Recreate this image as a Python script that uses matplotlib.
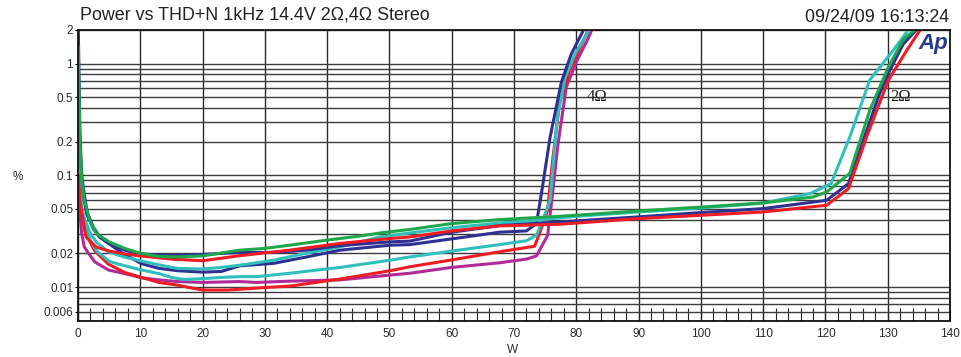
import matplotlib
matplotlib.use("Agg")
import matplotlib.pyplot as plt
from matplotlib.ticker import FixedLocator, FixedFormatter, LogLocator, NullFormatter, MultipleLocator

plt.rcParams['font.family'] = ['Liberation Sans', 'DejaVu Sans']

# ---- data (W, THD+N %) ----
# 4 ohm curves
blue4_w = [0.05, 0.3, 0.85, 1.4, 2.5, 3.5, 4.9, 7.5, 10.2, 13, 16, 20, 23, 26, 31.4, 36.7, 42.1, 50.1, 53.3,
           60, 67.7, 72, 73.6, 74.4, 75.8, 77.6, 79.2, 81.1, 81.5]
blue4_v = [0.3, 0.12, 0.065, 0.045, 0.033, 0.028, 0.0246, 0.0195, 0.0162, 0.0147, 0.014, 0.0136, 0.0138, 0.0155,
           0.0163, 0.0186, 0.0214, 0.0237, 0.024, 0.027, 0.031, 0.0318, 0.037, 0.0686, 0.22, 0.68, 1.22, 1.97, 2.2]

cyan4_w = [0.05, 0.3, 0.6, 1, 2, 3, 5, 7.5, 10, 13, 15, 17, 20, 23, 26, 28.7, 34, 42.1, 50.1, 53.3,
           60, 67.7, 72, 73.6, 74.4, 75.8, 76.9, 78.2, 79.8, 81.9, 82.3]
cyan4_v = [0.12, 0.07, 0.05, 0.038, 0.026, 0.021, 0.017, 0.0155, 0.0143, 0.0132, 0.0122, 0.0117, 0.0119, 0.0122,
           0.0124, 0.0124, 0.0133, 0.015, 0.0174, 0.0186, 0.021, 0.024, 0.026, 0.0291, 0.037, 0.0598, 0.31, 0.75,
           1.22, 1.93, 2.2]

red4_w = [0.05, 0.3, 0.6, 1.1, 2, 2.7, 4.9, 7.5, 10.2, 13, 16, 20, 24, 30, 34, 42.1, 50.1, 53.3,
          60, 67.7, 73.3, 74.1, 75.4, 76.2, 77.3, 78.9, 81.9, 82.2]
red4_v = [0.09, 0.06, 0.045, 0.032, 0.025, 0.021, 0.016, 0.0135, 0.0122, 0.011, 0.0104, 0.0094, 0.0094, 0.0099,
          0.0102, 0.0118, 0.014, 0.0152, 0.0175, 0.0207, 0.0232, 0.0302, 0.0487, 0.136, 0.44, 0.86, 2.0, 2.2]

mag4_w = [0.05, 0.3, 0.6, 1, 1.7, 2.7, 4.9, 7.5, 10.2, 13, 16, 20, 26, 28.7, 34, 42.1, 50.1, 53.3,
          60, 67.7, 72, 73.6, 75.4, 76.2, 77.0, 78.4, 80.1, 81.9, 82.8]
mag4_v = [0.06, 0.045, 0.03, 0.023, 0.02, 0.0168, 0.0142, 0.0132, 0.0121, 0.0116, 0.0112, 0.011, 0.0112, 0.011,
          0.0113, 0.0116, 0.0128, 0.0133, 0.015, 0.0165, 0.0178, 0.019, 0.029, 0.069, 0.18, 0.62, 1.06, 1.68, 2.2]

# 2 ohm curves
cyan2_w = [0.05, 0.3, 0.6, 1, 2, 3, 5, 7.5, 10, 13, 16, 20, 23, 26, 31.4, 36.7, 42.1, 48.5, 53.3,
           60, 67.7, 72, 80, 90, 100, 110, 117.5, 120.9, 123.9, 127.1, 130.9, 133.3, 133.8]
cyan2_v = [0.15, 0.07, 0.05, 0.042, 0.03, 0.025, 0.0205, 0.0185, 0.0172, 0.0158, 0.0147, 0.0145, 0.015, 0.0157,
           0.0174, 0.0201, 0.0229, 0.0281, 0.0305, 0.034, 0.0375, 0.039, 0.043, 0.047, 0.051, 0.0565, 0.0686,
           0.0843, 0.22, 0.71, 1.32, 2.0, 2.2]

blue2_w = [0.05, 0.3, 0.6, 1, 1.5, 2.5, 3.5, 5, 7.5, 10, 15, 20, 26, 31.4, 36.7, 42.1, 50.1, 53.3,
           60, 67.7, 77.4, 90, 100, 110, 120.2, 123.7, 126.6, 128.7, 130.3, 132.5, 134.6, 135]
blue2_v = [2.0, 0.25, 0.1, 0.068, 0.046, 0.034, 0.028, 0.0245, 0.0214, 0.0198, 0.0192, 0.0196, 0.0204, 0.0204,
           0.0214, 0.0235, 0.0254, 0.0258, 0.031, 0.0355, 0.0383, 0.0425, 0.0464, 0.0504, 0.0598, 0.0843, 0.25,
           0.54, 0.86, 1.5, 2.0, 2.2]

red2_w = [0.05, 0.3, 0.8, 1.3, 2.9, 5, 7.5, 10, 15, 20, 26, 34, 42.1, 50.1, 53.3,
          60, 67.7, 77.4, 90, 100, 110, 120.2, 123.7, 126.6, 130.1, 133, 135.2, 135.6]
red2_v = [0.1, 0.06, 0.04, 0.028, 0.0228, 0.021, 0.0198, 0.019, 0.0178, 0.0172, 0.0191, 0.0214, 0.0246, 0.0272,
          0.0281, 0.0318, 0.0353, 0.0365, 0.041, 0.0439, 0.047, 0.054, 0.076, 0.22, 0.71, 1.3, 2.0, 2.2]

green2_w = [0.05, 0.3, 0.6, 1, 2, 3, 5, 7.5, 10, 13, 16, 20, 24, 26, 30, 34, 39.9, 45, 48.5, 53.3,
            60, 67.7, 77.4, 90, 100, 110, 118, 120.2, 123.9, 127.1, 130.1, 132.5, 134.4, 134.8]
green2_v = [1.4, 0.2, 0.09, 0.06, 0.038, 0.03, 0.0254, 0.0222, 0.0201, 0.0188, 0.0186, 0.019, 0.0206, 0.0214,
            0.0222, 0.0237, 0.0263, 0.0285, 0.0305, 0.0328, 0.037, 0.0402, 0.043, 0.048, 0.052, 0.0566, 0.064,
            0.071, 0.104, 0.38, 0.93, 1.65, 2.0, 2.2]

ytick_vals = [0.006, 0.01, 0.02, 0.05, 0.1, 0.2, 0.5, 1, 2]
ytick_labels = ['0.006', '0.01', '0.02', '0.05', '0.1', '0.2', '0.5', '1', '2']

BLUE = '#2e3192'
GREEN = '#1ea84b'
RED = '#ee1d25'
CYAN = '#30c0bc'
MAGENTA = '#b02a98'

fig = plt.figure(figsize=(9.62, 3.57), dpi=100)
ax = fig.add_axes([78 / 962, 1 - 320.7 / 357, 872 / 962, 290.7 / 357])

lw = 2.2
ax.plot(mag4_w, mag4_v, color=MAGENTA, lw=lw)
ax.plot(red4_w, red4_v, color=RED, lw=lw)
ax.plot(cyan4_w, cyan4_v, color=CYAN, lw=lw)
ax.plot(blue4_w, blue4_v, color=BLUE, lw=lw)
ax.plot(cyan2_w, cyan2_v, color=CYAN, lw=lw)
ax.plot(blue2_w, blue2_v, color=BLUE, lw=lw)
ax.plot(red2_w, red2_v, color=RED, lw=lw)
ax.plot(green2_w, green2_v, color=GREEN, lw=lw)

ax.set_yscale('log')
ax.set_xlim(0, 140)
ax.set_ylim(0.005, 2)

ax.yaxis.set_major_locator(FixedLocator(ytick_vals))
ax.yaxis.set_major_formatter(FixedFormatter(ytick_labels))
ax.yaxis.set_minor_locator(LogLocator(base=10, subs=range(1, 10), numticks=20))
ax.yaxis.set_minor_formatter(NullFormatter())
ax.xaxis.set_major_locator(MultipleLocator(10))
ax.xaxis.set_minor_locator(MultipleLocator(2))

ax.grid(True, axis='y', which='both', color='#3c3c3c', lw=1.0)
ax.grid(True, axis='x', which='major', color='#2a2a2a', lw=1.0)
ax.set_axisbelow(True)

ax.tick_params(axis='x', which='both', direction='in', length=9.5, width=0.8, color='#222222',
               labelsize=8.5, pad=5, labelcolor='#2a2a2a')
ax.tick_params(axis='y', which='major', direction='out', length=2.5, width=0.8,
               labelsize=8.5, pad=1, labelcolor='#2a2a2a')
ax.tick_params(axis='y', which='minor', length=0)
for s in ax.spines.values():
    s.set_linewidth(1.3)
    s.set_color('#111111')

ax.text(81.7, 0.5, '4Ω', family=['Liberation Serif', 'DejaVu Serif'], fontsize=12,
        color='#222222', ha='left', va='center')
ax.text(130.4, 0.5, '2Ω', family=['Liberation Serif', 'DejaVu Serif'], fontsize=12,
        color='#222222', ha='left', va='center')
ax.text(0.998, 0.99, 'Ap', transform=ax.transAxes, fontsize=16, fontweight='bold', fontstyle='italic',
        color='#283a8e', ha='right', va='top')

fig.text(80 / 962, 1 - 15 / 357, 'Power vs THD+N 1kHz 14.4V 2Ω,4Ω Stereo', fontsize=12.9,
         color='#222222', ha='left', va='center')
fig.text(805 / 962, 1 - 17 / 357, '09/24/09 16:13:24', fontsize=12.9, color='#222222',
         ha='left', va='center')

fig.text(18 / 962, 1 - 177 / 357, '%', fontsize=8.5, color='#2a2a2a', ha='center', va='center')
fig.text(513 / 962, 1 - 350 / 357, 'W', fontsize=8.5, color='#2a2a2a', ha='center', va='center')

fig.savefig('out.png', dpi=100)
